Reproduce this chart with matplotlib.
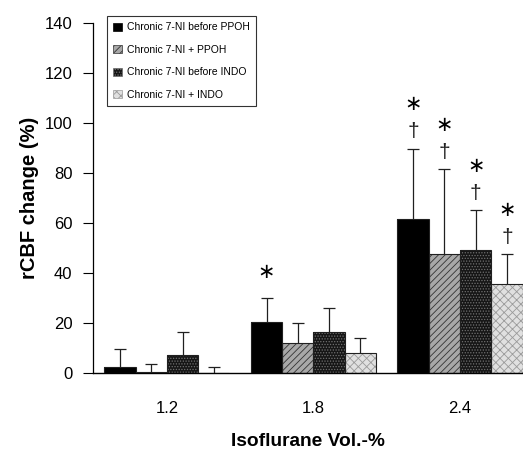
import numpy as np
import matplotlib
matplotlib.use("Agg")
import matplotlib.pyplot as plt
import matplotlib.patches as mpatches

plt.rcParams["font.family"] = ["Liberation Sans", "DejaVu Sans"]
plt.rcParams["hatch.linewidth"] = 0.6

# data
doses = ["1.2", "1.8", "2.4"]
series = ["Chronic 7-NI before PPOH", "Chronic 7-NI + PPOH",
          "Chronic 7-NI before INDO", "Chronic 7-NI + INDO"]
mean_ppoh_before = [2.5, 20.7, 61.7]
mean_ppoh = [0.5, 12.1, 47.5]
mean_indo_before = [7.5, 16.7, 49.4]
mean_indo = [0.0, 8.1, 35.8]
sd_ppoh_before = [7.4, 9.6, 28.0]
sd_ppoh = [3.3, 8.2, 33.9]
sd_indo_before = [9.2, 9.6, 15.7]
sd_indo = [2.7, 6.0, 11.7]
# significance marks: * and dagger
star_ppoh_before = [False, True, True]
star_ppoh = [False, False, True]
star_indo_before = [False, False, True]
star_indo = [False, False, True]
dagger_ppoh_before = [False, False, True]
dagger_ppoh = [False, False, True]
dagger_indo_before = [False, False, True]
dagger_indo = [False, False, True]

means = [mean_ppoh_before, mean_ppoh, mean_indo_before, mean_indo]
sds = [sd_ppoh_before, sd_ppoh, sd_indo_before, sd_indo]
stars = [star_ppoh_before, star_ppoh, star_indo_before, star_indo]
daggers = [dagger_ppoh_before, dagger_ppoh, dagger_indo_before, dagger_indo]

# fill / hatch styles
faces = ["black", "#a8a8a8", "#161616", "#e0e0e0"]
hatchcols = ["black", "#333333", "#707070", "#9a9a9a"]
hatches = [None, "/////", "......", "xxxx"]

fig = plt.figure(figsize=(5.23, 4.53), dpi=100)
ax = fig.add_axes([0.1784, 0.1755, 0.8216, 0.7748])

x = np.arange(len(doses))
w = 0.2134
handles = []
for i in range(4):
    xs = x + (i - 1.5) * w
    m = np.array(means[i])
    s = np.array(sds[i])
    ax.bar(xs, m, w, color=faces[i], edgecolor=hatchcols[i], hatch=hatches[i],
           linewidth=0, zorder=2)
    ax.bar(xs, m, w, fill=False, edgecolor="#202020", linewidth=0.8, zorder=3)
    eb = ax.errorbar(xs, m, yerr=[np.zeros_like(s), s], fmt="none", ecolor="#202020",
                     elinewidth=0.9, capsize=4, capthick=0.9, zorder=4)
    eb[1][0].set_visible(False)  # hide lower cap
    top = m + s
    for j in range(len(doses)):
        yy = top[j] + 6.8
        if daggers[i][j]:
            ax.text(xs[j], yy, "\u2020", ha="center", va="center", fontsize=15,
                    color="#202020")
            yy += 11.0
        else:
            yy += 3.2
        if stars[i][j]:
            ax.text(xs[j], yy, "\u2217", ha="center", va="center", fontsize=15,
                    family="DejaVu Sans", color="black")
    handles.append(mpatches.Patch(facecolor=faces[i], edgecolor=hatchcols[i],
                                  hatch=hatches[i], linewidth=0.5, label=series[i]))

ax.set_xlim(-0.502, 2.43)
ax.set_ylim(0, 140)
ax.set_yticks(np.arange(0, 141, 20))
ax.set_xticks(x)
ax.set_xticklabels(doses)
ax.tick_params(axis="y", direction="out", length=7, width=0.8, labelsize=12, pad=8)
ax.tick_params(axis="x", length=0, labelsize=12, pad=20)
for sp in ["top", "right"]:
    ax.spines[sp].set_visible(False)
ax.spines["left"].set_linewidth(0.9)
ax.spines["bottom"].set_linewidth(1.0)

ax.set_ylabel("rCBF change (%)", fontsize=14.5, fontweight="bold", labelpad=4)
ax.set_xlabel("Isoflurane Vol.-%", fontsize=13.8, fontweight="bold", labelpad=12)

leg = ax.legend(handles=handles, loc="upper left", bbox_to_anchor=(0.032, 1.0185),
                borderaxespad=0, fontsize=7.5, frameon=True, fancybox=False,
                handlelength=0.8, handleheight=0.8, handletextpad=0.5,
                labelspacing=1.2, borderpad=0.6)
leg.get_frame().set_edgecolor("black")
leg.get_frame().set_linewidth(0.8)

fig.savefig("out.png", dpi=100)
